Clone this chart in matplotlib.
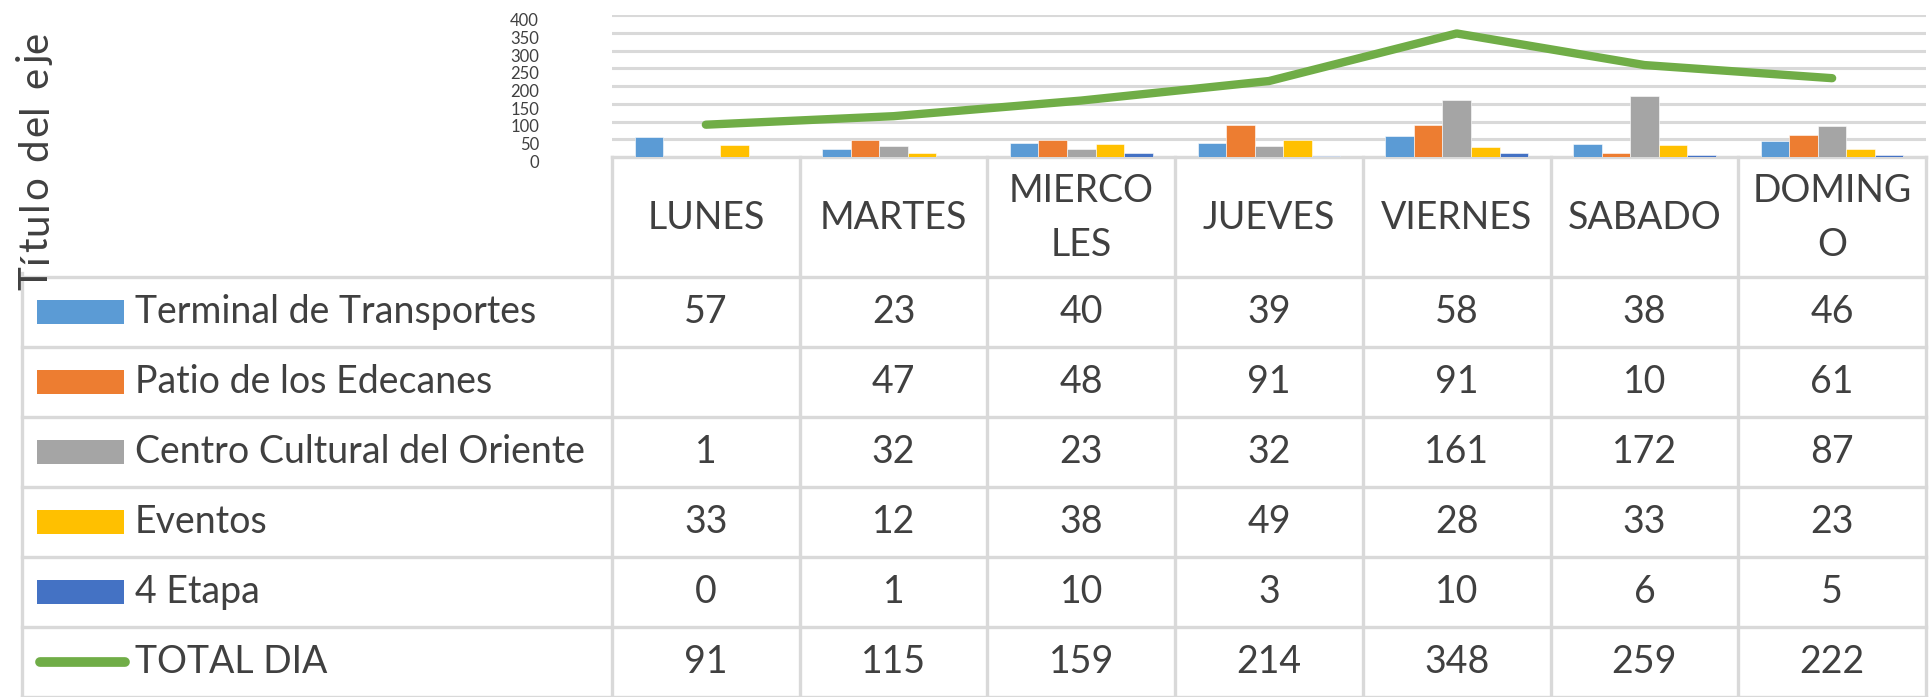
import numpy as np
import matplotlib
matplotlib.use("Agg")
import matplotlib.pyplot as plt
from matplotlib import font_manager
from matplotlib.transforms import ScaledTranslation

plt.rcParams['font.family'] = ['Lato', 'DejaVu Sans']

# ---------------- data ----------------
header_labels = ["LUNES", "MARTES", "MIERCO\nLES", "JUEVES", "VIERNES", "SABADO", "DOMING\nO"]
series_names = ["Terminal de Transportes", "Patio de los Edecanes",
                "Centro Cultural del Oriente", "Eventos", "4 Etapa"]
terminal = [57, 23, 40, 39, 58, 38, 46]
patio = [np.nan, 47, 48, 91, 91, 10, 61]
centro = [1, 32, 23, 32, 161, 172, 87]
eventos = [33, 12, 38, 49, 28, 33, 23]
etapa4 = [0, 1, 10, 3, 10, 6, 5]
total_name = "TOTAL DIA"
total_dia = [91, 115, 159, 214, 348, 259, 222]
y_ticks = [0, 50, 100, 150, 200, 250, 300, 350, 400]
axis_title = "Título del eje"

series_values = [terminal, patio, centro, eventos, etapa4]
colors = ["#5B9BD5", "#ED7D31", "#A5A5A5", "#FFC000", "#4472C4"]
green = "#70AD47"
grid_c = "#D9D9D9"
text_c = "#404040"

# ---------------- layout (pixels) ----------------
W, H = 1930, 697
plot_left, plot_right = 612, 1926
plot_top, plot_bottom = 15, 157
header_bottom = 277
row_h = 70.0
table_left = 22
n = len(header_labels)

fig = plt.figure(figsize=(W / 100, H / 100), dpi=100)

# background axes in pixel coordinates for the data table
tab = fig.add_axes([0, 0, 1, 1])
tab.set_xlim(0, W)
tab.set_ylim(H, 0)
tab.axis("off")

ax = fig.add_axes([plot_left / W, 1 - plot_bottom / H,
                   (plot_right - plot_left) / W, (plot_bottom - plot_top) / H])
ax.set_xlim(-0.5, n - 0.5)
ax.set_ylim(0, 400)
ax.patch.set_alpha(0)

x = np.arange(n)
bw = 0.152
for k, (vals, c) in enumerate(zip(series_values, colors)):
    ax.bar(x + (k - 2) * bw, np.nan_to_num(vals), width=bw, color=c,
           edgecolor="white", linewidth=0.4, zorder=2)
ax.plot(x, total_dia, color=green, lw=6, solid_capstyle="round", zorder=3)

ax.set_yticks(y_ticks)
ax.set_yticklabels([])
ax.tick_params(axis="y", length=0)
ax.set_xticks([])
ax.yaxis.grid(True, color=grid_c, lw=2.2)
ax.set_axisbelow(True)
for s in ax.spines.values():
    s.set_visible(False)
lab_tr = ax.get_yaxis_transform() + ScaledTranslation(-73 / 100, -6 / 100, fig.dpi_scale_trans)
for t in y_ticks:
    ax.text(0, t, str(t), transform=lab_tr, ha="right", va="center",
            fontsize=12, color=text_c, clip_on=False)

# ---------------- table ----------------
lw_t = 2.4
col_w = (plot_right - plot_left) / n
col_edges = [plot_left + i * col_w for i in range(n + 1)]
col_centers = [plot_left + (i + 0.5) * col_w for i in range(n)]
n_rows = len(series_names) + 1
row_edges = [header_bottom + r * row_h for r in range(n_rows + 1)]

tab.plot([plot_left, plot_right], [plot_bottom, plot_bottom], color=grid_c, lw=lw_t)
for yy in row_edges:
    tab.plot([table_left, plot_right], [yy, yy], color=grid_c, lw=lw_t)
tab.plot([table_left, table_left], [header_bottom - 4, H], color=grid_c, lw=lw_t)
for xx in col_edges:
    tab.plot([xx, xx], [plot_bottom, H], color=grid_c, lw=lw_t)

fs = 27
for cx, lab in zip(col_centers, header_labels):
    tab.text(cx, (plot_bottom + header_bottom) / 2 + 1, lab, ha="center", va="center",
             fontsize=fs, color=text_c, linespacing=1.6)

all_rows = series_values + [total_dia]
all_names = series_names + [total_name]
for r, (name, vals) in enumerate(zip(all_names, all_rows)):
    cy = header_bottom + (r + 0.5) * row_h
    if r < len(series_names):
        tab.add_patch(plt.Rectangle((37, cy - 12), 87, 24, color=colors[r], lw=0))
    else:
        tab.plot([40, 125], [cy, cy], color=green, lw=7, solid_capstyle="round")
    tab.text(135, cy, name, ha="left", va="center", fontsize=fs, color=text_c)
    for cx, v in zip(col_centers, vals):
        if v is None or (isinstance(v, float) and np.isnan(v)):
            continue
        tab.text(cx, cy, f"{int(v)}", ha="center", va="center", fontsize=fs, color=text_c)

# axis title, rotated, with letter spacing (tracking)
prop = font_manager.FontProperties(family="Lato", size=29)
renderer = fig.canvas.get_renderer()


def text_w(s):
    t = tab.text(0, 0, s, fontproperties=prop)
    w = t.get_window_extent(renderer).width
    t.remove()
    return w


bar_w = text_w("|")
offsets = [0.0] + [text_w(axis_title[:i] + "|") - bar_w for i in range(1, len(axis_title))]
natural = text_w(axis_title)
title_bottom, title_top = 290.0, 32.0
track = ((title_bottom - title_top) - natural) / (len(axis_title) - 1)
for i, ch in enumerate(axis_title):
    if ch == " ":
        continue
    tab.text(47, title_bottom - (offsets[i] + i * track), ch, rotation=90,
             rotation_mode="anchor", ha="left", va="baseline",
             fontproperties=prop, color=text_c)

fig.savefig("out.png", dpi=100)
